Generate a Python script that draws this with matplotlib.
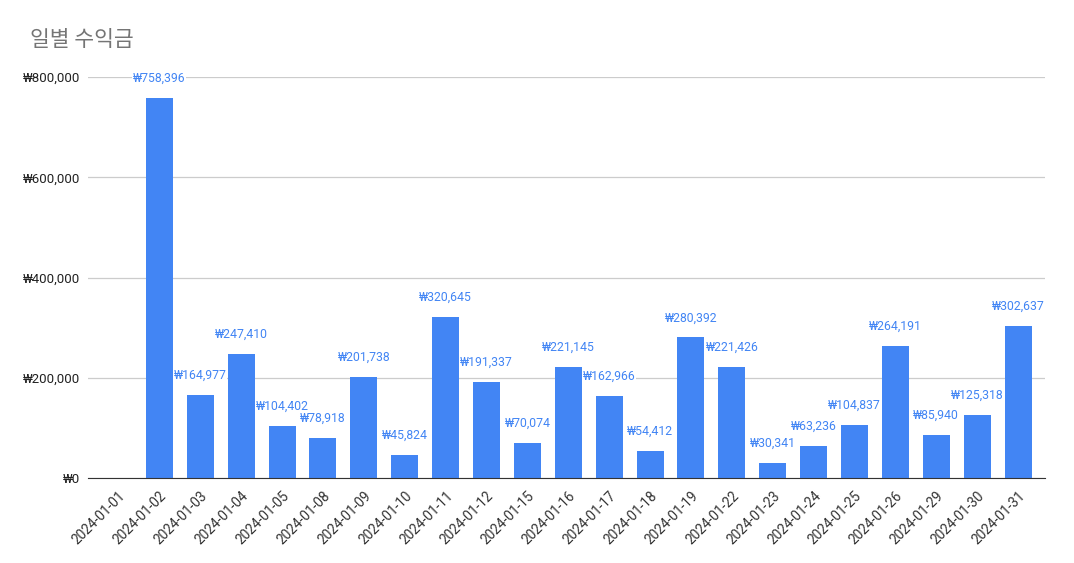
import numpy as np
import matplotlib.pyplot as plt

# --- data ---
dates = ['2024-01-01', '2024-01-02', '2024-01-03', '2024-01-04', '2024-01-05',
         '2024-01-08', '2024-01-09', '2024-01-10', '2024-01-11', '2024-01-12',
         '2024-01-15', '2024-01-16', '2024-01-17', '2024-01-18', '2024-01-19',
         '2024-01-22', '2024-01-23', '2024-01-24', '2024-01-25', '2024-01-26',
         '2024-01-29', '2024-01-30', '2024-01-31']
revenue = [0, 758396, 164977, 247410, 104402,
           78918, 201738, 45824, 320645, 191337,
           70074, 221145, 162966, 54412, 280392,
           221426, 30341, 63236, 104837, 264191,
           85940, 125318, 302637]
yticks = [0, 200000, 400000, 600000, 800000]

BAR_COLOR = '#4285F4'
FONT = ['Roboto', 'DejaVu Sans']
plt.rcParams['font.family'] = FONT


def won(v):
    return f'₩{v:,.0f}'


def main():
    fig = plt.figure(figsize=(10.74, 5.63), dpi=100)
    ax = fig.add_axes([0.082, 0.151, 0.891, 0.712])

    x = np.arange(len(dates))
    ax.bar(x, revenue, width=0.66, color=BAR_COLOR, zorder=3)

    for xi, v in zip(x, revenue):
        if v > 0:
            ax.annotate(won(v), (xi, v), xytext=(0, 9.5), textcoords='offset points',
                        ha='center', va='bottom', fontsize=8.8, color=BAR_COLOR,
                        zorder=4,
                        bbox=dict(boxstyle='square,pad=0.05', fc='white', ec='none'))

    ax.set_xlim(-0.745, len(dates) - 0.34)
    ax.set_ylim(0, 800000)
    ax.set_yticks(yticks)
    ax.set_yticklabels([won(t) for t in yticks], fontsize=9.5, color='#222222')
    ax.set_xticks(x)
    ax.set_xticklabels(dates, rotation=45, ha='right', rotation_mode='anchor',
                       fontsize=9.8, color='#333333')
    ax.tick_params(axis='both', length=0, pad=6)
    ax.tick_params(axis='x', pad=8)

    ax.grid(axis='y', color='#cccccc', linewidth=0.9, zorder=0)
    for side in ('top', 'right', 'left'):
        ax.spines[side].set_visible(False)
    ax.spines['bottom'].set_color('#333333')
    ax.spines['bottom'].set_zorder(5)

    fig.text(0.028, 0.929, '일별 수익금', fontsize=15.5, color='#757575',
             family=['Noto Sans CJK KR', 'DejaVu Sans'], va='center', ha='left')

    fig.savefig('out.png', dpi=100, facecolor='white')
    plt.close(fig)


if __name__ == '__main__':
    main()
